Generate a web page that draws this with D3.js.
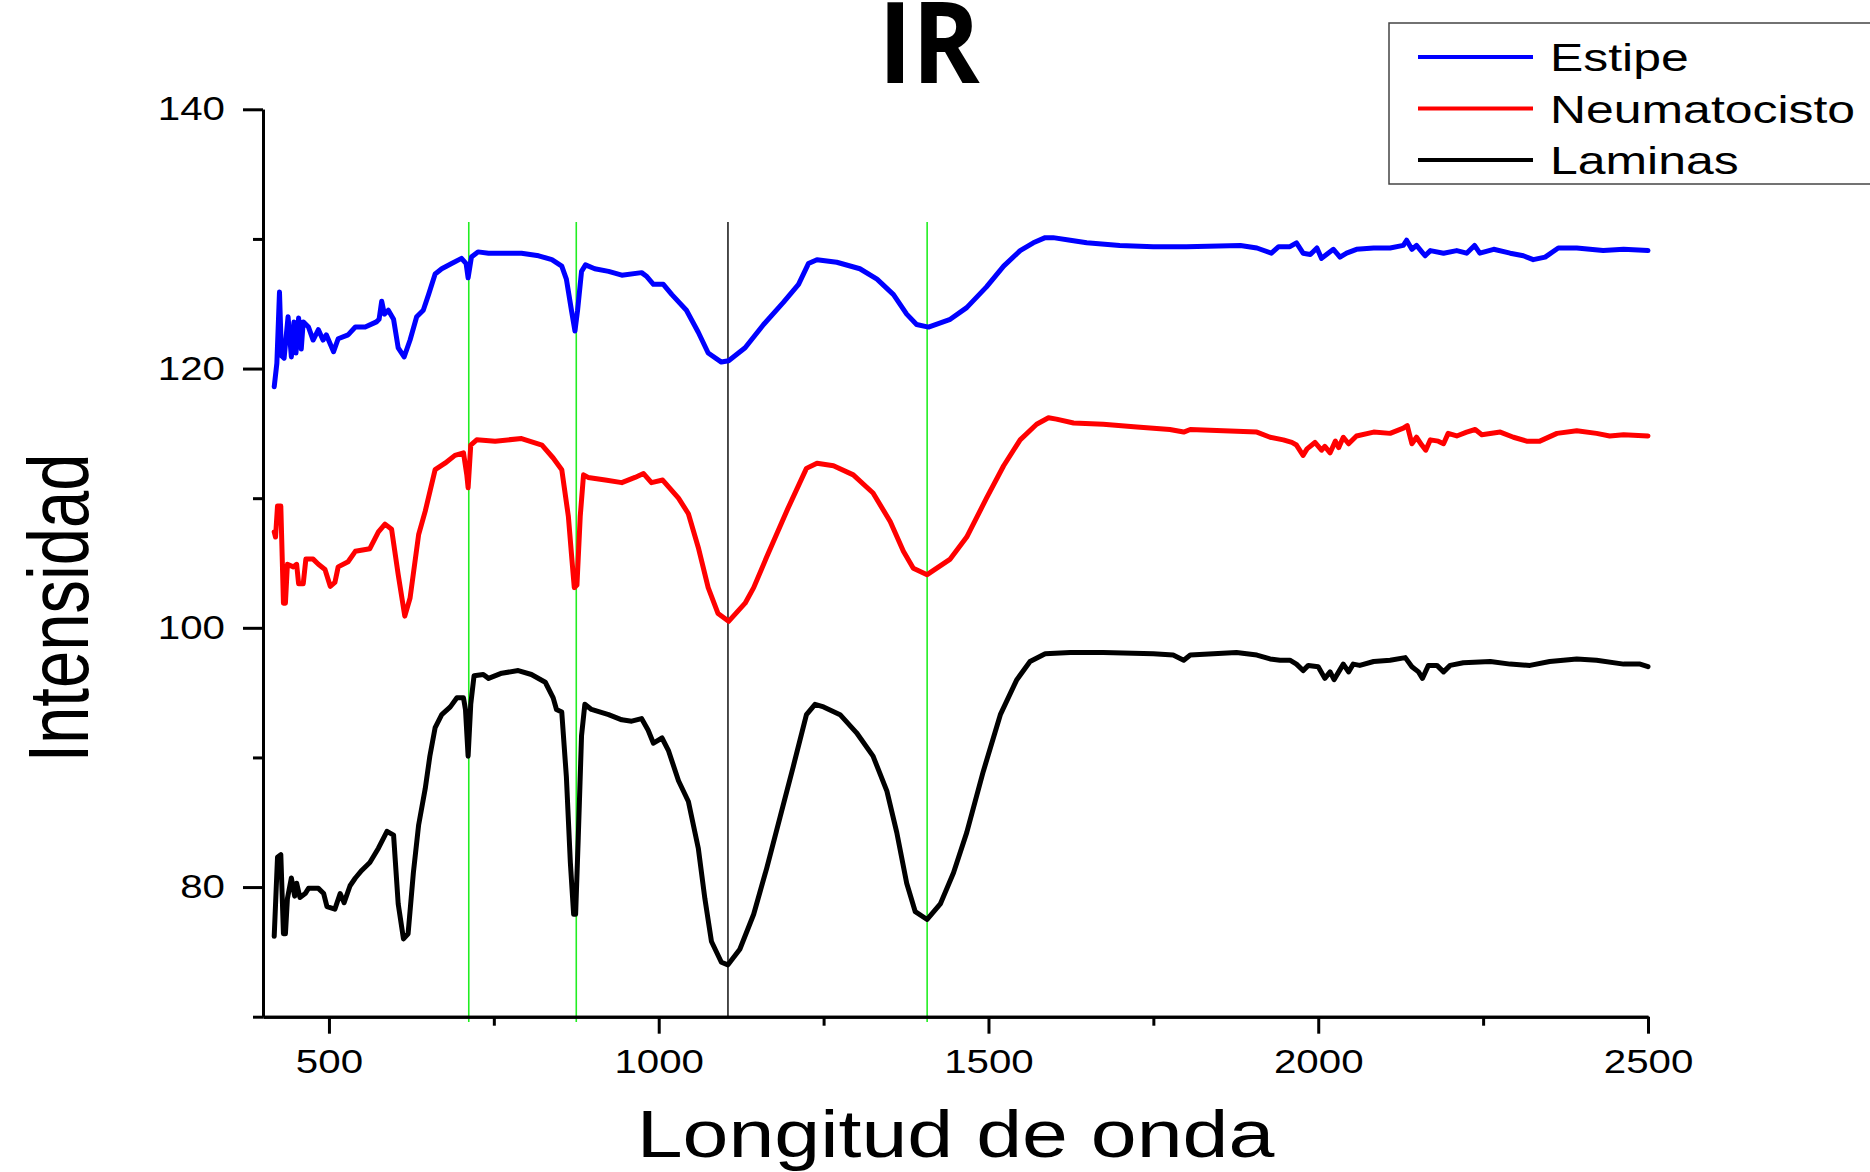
<!DOCTYPE html>
<html>
<head>
<meta charset="utf-8">
<script src="https://cdn.jsdelivr.net/npm/d3@7"></script>
<style>
    body { margin: 0; background: #fff; }
    svg { display: block; font-family: "Liberation Sans", Arial, sans-serif; }
    .axis path, .axis line { stroke: #000; stroke-width: 3px; }
    .axis text { font-size: 33px; fill: #000; }
</style>
</head>
<body>
<script>
// wavelength / intensity pairs
const estipe = [
    [417, 118.6], [421, 120.4], [425, 125.9], [428, 121.0], [432, 120.8], [438, 124.0], [443, 120.9], [447, 123.6],
    [450, 121.2], [454, 123.9], [458, 121.5], [461, 123.6], [469, 123.2], [476, 122.2], [484, 123.0], [491, 122.2],
    [496, 122.6], [507, 121.3], [514, 122.3], [529, 122.6], [540, 123.2], [555, 123.2], [572, 123.6], [576, 123.8],
    [580, 125.2], [584, 124.2], [590, 124.5], [598, 123.8], [605, 121.6], [614, 120.9], [623, 122.2], [633, 124.0],
    [643, 124.5], [651, 125.7], [661, 127.3], [671, 127.7], [686, 128.1], [701, 128.5], [708, 128.1], [711, 127.0],
    [716, 128.6], [726, 129.0], [742, 128.9], [767, 128.9], [792, 128.9], [818, 128.7], [838, 128.4], [853, 127.9],
    [860, 126.9], [868, 124.4], [873, 122.9], [877, 124.5], [883, 127.5], [889, 128.0], [903, 127.7], [924, 127.5],
    [944, 127.2], [974, 127.4], [982, 127.1], [992, 126.5], [1007, 126.5], [1020, 125.7], [1042, 124.5], [1060, 122.8],
    [1075, 121.2], [1095, 120.5], [1106, 120.6], [1131, 121.6], [1159, 123.4], [1189, 125.1], [1212, 126.5], [1227, 128.1],
    [1240, 128.4], [1270, 128.2], [1305, 127.7], [1331, 126.9], [1356, 125.7], [1376, 124.2], [1391, 123.4], [1409, 123.2],
    [1442, 123.8], [1467, 124.7], [1497, 126.3], [1523, 127.9], [1548, 129.1], [1568, 129.7], [1586, 130.1], [1598, 130.1],
    [1624, 129.9], [1649, 129.7], [1699, 129.5], [1750, 129.4], [1800, 129.4], [1882, 129.5], [1907, 129.3], [1929, 128.9],
    [1940, 129.4], [1957, 129.4], [1967, 129.7], [1977, 128.9], [1988, 128.8], [1998, 129.3], [2005, 128.5], [2015, 128.9],
    [2023, 129.2], [2033, 128.6], [2043, 128.9], [2058, 129.2], [2084, 129.3], [2109, 129.3], [2129, 129.5], [2134, 129.9],
    [2142, 129.2], [2149, 129.5], [2162, 128.7], [2170, 129.1], [2190, 128.9], [2210, 129.1], [2225, 128.9], [2237, 129.5],
    [2245, 128.9], [2266, 129.2], [2291, 128.9], [2311, 128.7], [2326, 128.4], [2344, 128.6], [2364, 129.3], [2392, 129.3],
    [2412, 129.2], [2432, 129.1], [2463, 129.2], [2500, 129.1]
]

const neumatocisto = [
    [417, 107.4], [419, 107.0], [422, 109.4], [427, 109.4], [431, 101.9], [434, 101.9], [437, 104.9], [446, 104.7],
    [451, 104.9], [454, 103.4], [461, 103.4], [465, 105.3], [476, 105.3], [484, 104.9], [494, 104.5], [502, 103.2],
    [509, 103.5], [514, 104.7], [529, 105.1], [540, 105.9], [562, 106.1], [575, 107.4], [585, 108.0], [595, 107.6],
    [605, 104.1], [615, 100.9], [623, 102.3], [636, 107.2], [646, 109.0], [661, 112.2], [676, 112.7], [691, 113.3],
    [704, 113.5], [709, 111.8], [711, 110.8], [715, 114.1], [724, 114.5], [752, 114.4], [792, 114.6], [823, 114.1],
    [840, 113.1], [853, 112.2], [863, 108.6], [868, 105.5], [872, 103.1], [876, 103.3], [881, 108.6], [886, 111.8],
    [893, 111.6], [919, 111.4], [944, 111.2], [964, 111.6], [977, 111.9], [989, 111.2], [1006, 111.4], [1030, 110.0],
    [1045, 108.8], [1060, 106.2], [1075, 103.1], [1090, 101.1], [1106, 100.5], [1131, 101.9], [1144, 103.1], [1164, 105.5],
    [1194, 109.0], [1224, 112.3], [1240, 112.7], [1265, 112.5], [1295, 111.8], [1325, 110.4], [1351, 108.2], [1371, 105.9],
    [1386, 104.6], [1407, 104.1], [1442, 105.3], [1467, 107.0], [1497, 110.0], [1523, 112.5], [1548, 114.5], [1573, 115.7],
    [1591, 116.2], [1603, 116.1], [1629, 115.8], [1674, 115.7], [1725, 115.5], [1775, 115.3], [1796, 115.1], [1806, 115.3],
    [1856, 115.2], [1907, 115.1], [1927, 114.7], [1947, 114.5], [1960, 114.3], [1967, 114.1], [1977, 113.3], [1983, 113.8],
    [1995, 114.3], [2005, 113.7], [2010, 114.0], [2018, 113.5], [2026, 114.4], [2031, 113.9], [2038, 114.7], [2046, 114.2],
    [2058, 114.8], [2084, 115.1], [2109, 115.0], [2129, 115.4], [2135, 115.6], [2142, 114.2], [2149, 114.7], [2157, 114.1],
    [2163, 113.7], [2170, 114.5], [2182, 114.4], [2190, 114.2], [2197, 115.0], [2210, 114.8], [2225, 115.1], [2238, 115.3],
    [2248, 114.9], [2276, 115.1], [2296, 114.7], [2316, 114.4], [2336, 114.4], [2362, 115.0], [2392, 115.2], [2422, 115.0],
    [2442, 114.8], [2463, 114.9], [2500, 114.8]
]

const laminas = [
    [417, 76.2], [422, 82.3], [427, 82.5], [431, 76.4], [434, 76.4], [437, 79.1], [443, 80.7], [448, 79.3],
    [451, 80.3], [456, 79.2], [464, 79.5], [469, 79.9], [484, 79.9], [492, 79.5], [497, 78.5], [509, 78.3],
    [517, 79.5], [523, 78.8], [532, 80.1], [540, 80.7], [550, 81.3], [562, 81.9], [575, 83.0], [588, 84.3],
    [598, 84.0], [605, 78.7], [613, 76.0], [620, 76.4], [628, 81.1], [636, 84.8], [646, 87.6], [653, 90.1],
    [661, 92.3], [671, 93.3], [684, 93.9], [694, 94.6], [704, 94.6], [707, 93.7], [711, 90.1], [715, 94.1],
    [720, 96.3], [734, 96.4], [742, 96.1], [762, 96.5], [787, 96.7], [807, 96.4], [828, 95.8], [840, 94.6],
    [845, 93.7], [853, 93.5], [860, 88.5], [866, 81.9], [871, 77.9], [874, 77.9], [878, 83.8], [883, 91.7],
    [888, 94.1], [898, 93.7], [924, 93.3], [944, 92.9], [959, 92.8], [974, 93.0], [984, 92.1], [992, 91.1],
    [1005, 91.5], [1015, 90.5], [1030, 88.2], [1045, 86.6], [1060, 83.0], [1070, 79.1], [1080, 75.8], [1095, 74.2],
    [1105, 74.0], [1123, 75.2], [1144, 77.9], [1164, 81.5], [1184, 85.4], [1204, 89.3], [1224, 93.3], [1237, 94.1],
    [1250, 93.9], [1275, 93.3], [1300, 91.9], [1325, 90.1], [1346, 87.4], [1361, 84.2], [1376, 80.3], [1389, 78.1],
    [1407, 77.5], [1427, 78.7], [1447, 81.1], [1467, 84.2], [1492, 88.9], [1518, 93.3], [1543, 96.0], [1563, 97.4],
    [1586, 98.0], [1624, 98.1], [1674, 98.1], [1750, 98.0], [1780, 97.9], [1796, 97.5], [1806, 97.9], [1876, 98.1],
    [1907, 97.9], [1927, 97.6], [1942, 97.5], [1957, 97.5], [1967, 97.2], [1977, 96.7], [1985, 97.1], [2000, 97.0],
    [2010, 96.1], [2018, 96.6], [2024, 96.0], [2031, 96.6], [2038, 97.2], [2046, 96.6], [2053, 97.2], [2063, 97.1],
    [2084, 97.4], [2109, 97.5], [2132, 97.7], [2142, 97.0], [2152, 96.6], [2158, 96.1], [2167, 97.1], [2180, 97.1],
    [2190, 96.6], [2200, 97.1], [2220, 97.3], [2261, 97.4], [2291, 97.2], [2321, 97.1], [2351, 97.4], [2392, 97.6],
    [2422, 97.5], [2463, 97.2], [2488, 97.2], [2500, 97.0]
]

const seriesNames = ['Estipe', 'Neumatocisto', 'Laminas']
const seriesColors = ['#0000ff', '#ff0000', '#000000']

// reference lines (wavelength) and their vertical span (intensity)
const greenMarks = [712, 875, 1407]
const blackMarks = [1105]
const markSpan = [69.6, 131.3]

const xTicks = [500, 1000, 1500, 2000, 2500]
const xMinors = [750, 1250, 1750, 2250]
const yTicks = [80, 100, 120, 140]
const yMinors = [70, 90, 110, 130]

const margin = { top: 109.3, right: 222, bottom: 155.3, left: 263 },
    width = 1870 - margin.left - margin.right,
    height = 1172 - margin.top - margin.bottom
const stretch = 1.22

const root = d3.select('body').append('svg')
    .attr('width', 1870)
    .attr('height', 1172)

const svg = root.append('g')
    .attr('transform', `translate(${margin.left},${margin.top})`)

const x = d3.scaleLinear().domain([400, 2500]).range([0, width])
const y = d3.scaleLinear().domain([70, 140]).range([height, 0])

// reference lines
svg.append('g').selectAll('line.green')
    .data(greenMarks).enter().append('line')
    .attr('x1', d => x(d)).attr('x2', d => x(d))
    .attr('y1', y(markSpan[1])).attr('y2', y(markSpan[0]))
    .attr('stroke', '#22ee22')
    .attr('stroke-width', 1.6)
svg.append('g').selectAll('line.black')
    .data(blackMarks).enter().append('line')
    .attr('x1', d => x(d)).attr('x2', d => x(d))
    .attr('y1', y(markSpan[1])).attr('y2', y(70))
    .attr('stroke', '#000')
    .attr('stroke-width', 1.4)

// axes
const axisY = svg.append('g').attr('class', 'axis axis--y')
axisY.call(d3.axisLeft(y).tickValues(yTicks).tickSize(20).tickSizeOuter(0).tickPadding(18).tickFormat(d3.format('d')))
axisY.selectAll('text')
    .attr('x', -38 / stretch)
    .attr('transform', `scale(${stretch},1)`)
svg.append('g').attr('class', 'axis axis--y')
    .call(d3.axisLeft(y).tickValues(yMinors).tickSize(10).tickSizeOuter(0).tickFormat(() => ''))

const axisX = svg.append('g').attr('class', 'axis axis--x')
    .attr('transform', `translate(0,${height})`)
axisX.call(d3.axisBottom(x).tickValues(xTicks).tickSize(17).tickSizeOuter(0).tickPadding(16).tickFormat(d3.format('d')))
axisX.selectAll('text').attr('transform', `scale(${stretch},1)`)
svg.append('g').attr('class', 'axis axis--x')
    .attr('transform', `translate(0,${height})`)
    .call(d3.axisBottom(x).tickValues(xMinors).tickSize(9).tickSizeOuter(0).tickFormat(() => ''))

// curves
const line = d3.line()
    .x(d => x(d[0]))
    .y(d => y(d[1]))

const lines = svg.append('g').attr('class', 'line-total')
;[estipe, neumatocisto, laminas].forEach((data, i) => {
    lines.append('path')
        .datum(data)
        .attr('d', line)
        .attr('fill', 'none')
        .attr('stroke', seriesColors[i])
        .attr('stroke-width', 5)
        .attr('stroke-linejoin', 'round')
        .attr('stroke-linecap', 'round')
})

// labels
root.append('text')
    .attr('transform', `translate(${margin.left + width / 2},1157) scale(1.25,1)`)
    .attr('text-anchor', 'middle')
    .attr('font-size', 66)
    .text('Longitud de onda')

root.append('text')
    .attr('transform', `translate(88,608) scale(1.28,1) rotate(-90)`)
    .attr('text-anchor', 'middle')
    .attr('font-size', 67)
    .text('Intensidad')

root.append('text')
    .attr('transform', 'translate(929,83) scale(0.9,1)')
    .attr('text-anchor', 'middle')
    .attr('font-family', '"Open Sans", sans-serif')
    .attr('font-weight', 700)
    .attr('font-size', 114)
    .text('IR')

// legend
const legend = root.append('g').attr('class', 'legend')
legend.append('rect')
    .attr('x', 1389).attr('y', 23)
    .attr('width', 600).attr('height', 161)
    .attr('fill', '#fff')
    .attr('stroke', '#444')
    .attr('stroke-width', 1.5)

seriesNames.forEach((name, i) => {
    const ly = 57 + i * 51.5
    legend.append('line')
        .attr('x1', 1418).attr('x2', 1533)
        .attr('y1', ly).attr('y2', ly)
        .attr('stroke', seriesColors[i])
        .attr('stroke-width', 4)
    legend.append('text')
        .attr('transform', `translate(1550,${ly + 14}) scale(1.28,1)`)
        .attr('font-size', 39)
        .text(name)
})
</script>
</body>
</html>
